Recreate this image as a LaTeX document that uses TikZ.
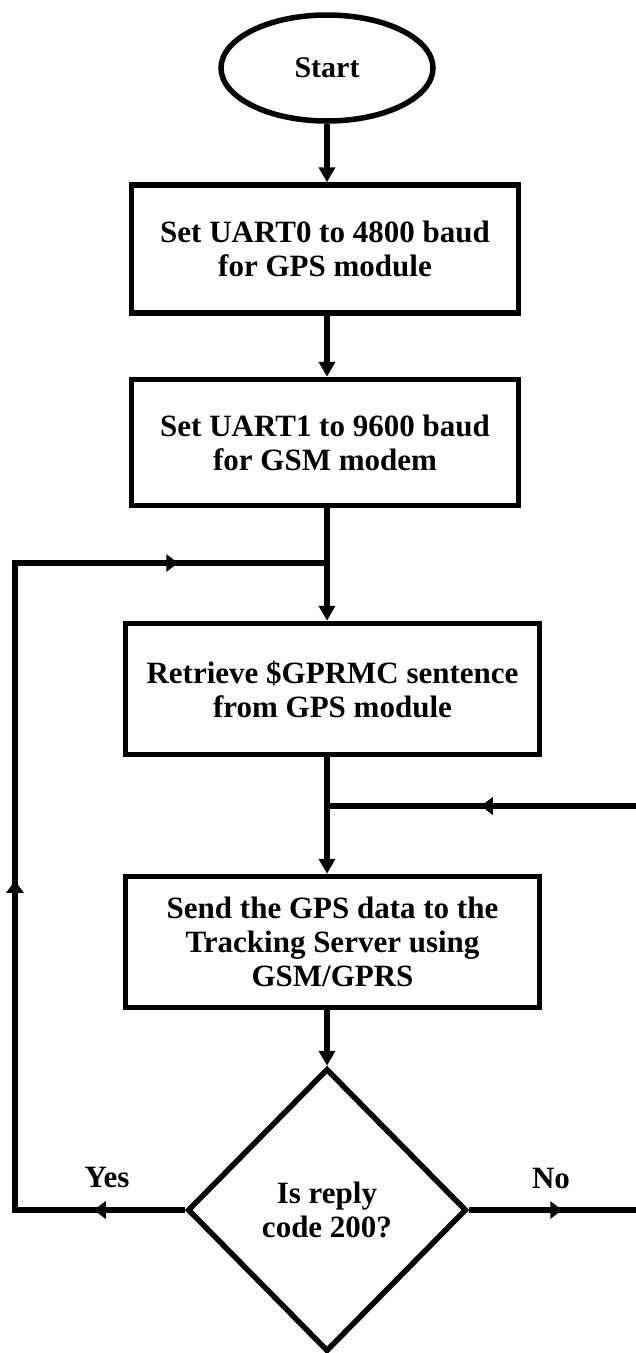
\documentclass[tikz,border=0pt]{standalone}
\usepackage{fontspec}
\setmainfont{Liberation Serif}
\usetikzlibrary{shapes.geometric,arrows.meta,decorations.markings}

\begin{document}
\begin{tikzpicture}[x=1pt,y=-1pt,
  font=\bfseries\fontsize{31}{34}\selectfont,
  wire/.style={line width=5.5pt},
  flow/.style={wire,-{Triangle[length=15pt,width=16pt]}},
  tipat/.style={postaction={decorate,decoration={markings,
      mark=at position #1 with {\arrow{Triangle[length=12pt,width=17pt]}}}}},
  stepbox/.style={draw,line width=5.5pt,rectangle,align=center,inner sep=0pt},
  terminal/.style={draw,line width=5.5pt,ellipse,inner sep=0pt,
      minimum width=212pt,minimum height=106pt},
  decision/.style={draw,line width=5.5pt,diamond,aspect=1,align=center,inner sep=0pt,
      minimum width=279pt,minimum height=283pt},
  tag/.style={inner sep=0pt}
]
\useasboundingbox (0,0) rectangle (635,1353);

% process steps
\node[terminal,font=\bfseries\fontsize{30}{34}\selectfont] (start) at (327,68) {Start};
\node[stepbox,minimum width=387pt,minimum height=128pt] (uart0) at (325,249)
  {Set UART0 to 4800 baud\\for GPS module};
\node[stepbox,minimum width=387pt,minimum height=126pt] (uart1) at (325,442.5)
  {Set UART1 to 9600 baud\\for GSM modem};
\node[stepbox,minimum width=414pt,minimum height=131pt] (gprmc) at (332.5,689)
  {Retrieve \$GPRMC sentence\\from GPS module};
\node[stepbox,minimum width=414pt,minimum height=131pt] (send) at (332.5,942)
  {Send the GPS data to the\\Tracking Server using\\GSM/GPRS};
\node[decision] (reply) at (327,1210) {Is reply\\code 200?};

% branch labels
\node[tag] (yes) at (107,1177) {Yes};
\node[tag] (no) at (551,1178) {No};

% junctions and loop corners
\coordinate (j1) at (327,563);
\coordinate (j2) at (327,806);
\coordinate (yl) at (15,1210);
\coordinate (tl) at (15,563);
\coordinate (br) at (645,1210);
\coordinate (tr) at (645,806);

% main flow
\draw[flow] (start.south) -- (uart0.north -| j1);
\draw[flow] (uart0.south -| j1) -- (uart1.north -| j1);
\draw[wire] (uart1.south -| j1) -- (j1);
\draw[flow] (j1) -- (gprmc.north -| j1);
\draw[wire] (gprmc.south -| j2) -- (j2);
\draw[flow] (j2) -- (send.north -| j2);
\draw[flow] (send.south -| j2) -- (reply.north);

% "Yes" loop back to retrieving a new sentence
\draw[wire,line join=miter,tipat=91pt,tipat=499pt,tipat=980pt]
  (reply.west) -- (yl) -- (tl) -- (j1);

% "No" loop back to resending
\draw[wire,line join=miter,tipat=93pt,tipat=744pt]
  (reply.east) -- (br) -- (tr) -- (j2);
\end{tikzpicture}
\end{document}
